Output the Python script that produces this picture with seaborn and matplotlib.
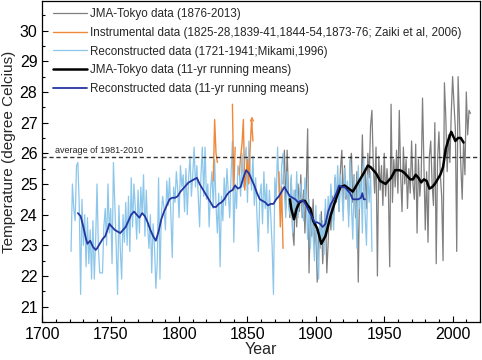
import numpy as np
import pandas as pd
import matplotlib
matplotlib.use('Agg')
import matplotlib.pyplot as plt
from matplotlib.ticker import MultipleLocator
import seaborn as sns

# --- 数据 ---
# 重建数据 1721-1941 (Mikami, 1996)
recon_years = np.arange(1721, 1942)
recon_temp = [
    22.8, 25.0, 24.2, 23.8, 25.6, 25.7, 24.3, 21.4, 24.5, 23.0,  # 1721-1730
    24.0, 22.3, 23.9, 22.4, 23.5, 21.9, 23.8, 21.9, 23.2, 25.0,  # 1731-1740
    22.9, 22.1, 22.1, 22.1, 23.6, 24.2, 23.0, 25.0, 23.4, 24.2,  # 1741-1750
    22.4, 25.7, 24.4, 23.0, 21.4, 24.3, 22.9, 21.9, 24.0, 23.1,  # 1751-1760
    24.4, 23.0, 24.6, 22.8, 25.2, 23.6, 25.0, 24.2, 23.2, 24.8,  # 1761-1770
    23.4, 24.9, 24.0, 25.3, 23.3, 24.8, 23.6, 22.9, 24.0, 22.1,  # 1771-1780
    23.7, 23.0, 21.6, 22.4, 25.2, 21.9, 24.0, 24.6, 24.2, 23.5,  # 1781-1790
    25.1, 24.3, 25.2, 24.0, 22.6, 24.9, 24.4, 25.4, 24.8, 23.9,  # 1791-1800
    25.6, 24.9, 25.3, 24.1, 25.5, 24.0, 25.2, 25.9, 24.6, 25.3,  # 1801-1810
    26.2, 24.9, 25.6, 24.6, 23.6, 25.3, 26.2, 24.6, 26.2, 24.5,  # 1811-1820
    25.0, 23.6, 24.8, 25.4, 24.2, 25.8, 24.3, 23.4, 24.7, 22.3,  # 1821-1830
    24.6, 23.8, 25.2, 24.3, 25.5, 24.7, 23.9, 25.3, 26.4, 23.1,  # 1831-1840
    25.0, 24.2, 25.6, 25.4, 24.6, 26.0, 24.9, 25.8, 26.2, 24.4,  # 1841-1850
    26.4, 25.4, 24.8, 25.9, 24.3, 25.2, 23.9, 22.8, 24.6, 25.0,  # 1851-1860
    23.7, 25.4, 24.2, 25.0, 23.4, 24.8, 24.0, 23.0, 21.4, 25.2,  # 1861-1870
    24.5, 26.2, 24.9, 24.1, 25.6, 26.0, 24.7, 23.9, 25.4, 24.5,  # 1871-1880
    24.0, 25.3, 23.4, 24.8, 24.1, 25.4, 23.9, 24.6, 25.0, 24.3,  # 1881-1890
    23.8, 25.2, 24.4, 23.2, 24.5, 22.9, 24.0, 23.3, 22.5, 24.3,  # 1891-1900
    22.6, 21.9, 24.0, 23.1, 23.8, 22.7, 24.5, 23.3, 24.6, 23.9,  # 1901-1910
    25.0, 24.2, 23.5, 25.3, 24.5, 25.6, 24.1, 25.3, 24.8, 23.8,  # 1911-1920
    25.5, 24.6, 25.1, 23.6, 25.8, 24.3, 23.2, 25.3, 24.7, 22.9,  # 1921-1930
    25.6, 24.2, 25.2, 23.4, 25.9, 24.0, 23.0, 25.3, 24.4, 25.4, 22.8,  # 1931-1941
]

# JMA 东京观测 1876-2013
jma_years = np.arange(1876, 2014)
jma_temp = [
    25.0, 26.1, 24.2, 26.1, 24.6,                                # 1876-1880
    23.9, 25.2, 23.5, 23.0, 24.8, 23.6, 25.0, 24.1, 25.3, 23.9,  # 1881-1890
    24.8, 23.4, 24.9, 26.8, 22.1, 24.0, 23.3, 24.5, 23.0, 23.6,  # 1891-1900
    21.8, 23.5, 22.9, 24.1, 22.4, 23.4, 24.2, 22.1, 23.1, 24.3,  # 1901-1910
    23.5, 24.6, 23.8, 25.2, 24.4, 25.0, 24.1, 25.5, 26.1, 24.3,  # 1911-1920
    25.6, 24.5, 25.0, 24.0, 25.7, 26.0, 24.4, 25.3, 23.9, 25.4,  # 1921-1930
    21.8, 25.0, 24.6, 26.6, 24.8, 25.5, 24.2, 26.0, 25.2, 26.9,  # 1931-1940
    27.4, 25.6, 24.7, 26.2, 22.0, 25.9, 24.8, 25.6, 24.3, 26.0,  # 1941-1950
    24.6, 25.5, 24.9, 22.3, 27.6, 24.4, 25.8, 24.9, 26.1, 24.7,  # 1951-1960
    27.4, 25.3, 24.1, 26.2, 25.0, 25.8, 24.2, 25.5, 24.7, 26.4,  # 1961-1970
    25.0, 24.5, 26.3, 23.4, 25.8, 24.6, 25.2, 27.8, 25.7, 23.5,  # 1971-1980
    25.4, 23.1, 25.9, 26.4, 25.0, 24.3, 27.0, 22.4, 25.8, 26.7,  # 1981-1990
    25.3, 24.6, 22.5, 28.3, 27.2, 25.4, 26.6, 25.7, 27.3, 28.5,  # 1991-2000
    27.6, 26.8, 22.8, 28.5, 27.1, 25.6, 24.5, 26.4, 25.3, 28.0,  # 2001-2010
    26.6, 27.4, 27.3,                                            # 2011-2013
]

# 器测数据 (Zaiki et al, 2006)，四段
instr_segments = [
    ([1825, 1826, 1827, 1828], [25.1, 27.1, 26.0, 25.7]),
    ([1839, 1840, 1841], [27.6, 24.8, 26.2]),
    (list(range(1844, 1855)), [25.3, 25.9, 26.3, 27.1, 24.8, 25.3, 25.8, 25.0, 26.2, 27.1, 26.4]),
    ([1873, 1874, 1875, 1876], [25.4, 23.6, 24.9, 22.9]),
]

# 11年滑动平均（重建）
recon_rm_years = [1726, 1728, 1730, 1732, 1733, 1735, 1737, 1739, 1740, 1742, 1744, 1746, 1748, 1749,
                  1751, 1753, 1755, 1757, 1759, 1761, 1763, 1765, 1767, 1769, 1771, 1773, 1775, 1777,
                  1779, 1781, 1783, 1785, 1787, 1789, 1791, 1793, 1795, 1797, 1799, 1801, 1803, 1805,
                  1807, 1809, 1811, 1813, 1815, 1817, 1819, 1821, 1823, 1825, 1827, 1829, 1831, 1833,
                  1835, 1837, 1839, 1841, 1843, 1845, 1847, 1849, 1851, 1853, 1855, 1857, 1859, 1861,
                  1863, 1865, 1867, 1869, 1871, 1873, 1875, 1877, 1879, 1881, 1883, 1885, 1887, 1889,
                  1891, 1893, 1895, 1897, 1899, 1901, 1903, 1905, 1907, 1909, 1911, 1913, 1915, 1917,
                  1919, 1921, 1923, 1925, 1927, 1929, 1931, 1933, 1934, 1935, 1936]
recon_rm = [24.05, 23.95, 23.6, 23.2, 23.05, 23.15, 22.95, 22.85, 22.9, 23.05, 23.2, 23.3, 23.55, 23.7,
            23.6, 23.5, 23.45, 23.4, 23.5, 23.6, 23.8, 24.0, 24.1, 24.0, 23.9, 24.05, 23.95, 23.75,
            23.5, 23.3, 23.15, 23.45, 23.85, 24.1, 24.3, 24.5, 24.55, 24.55, 24.6, 24.75, 24.85, 24.95,
            25.05, 25.1, 25.15, 25.2, 25.0, 24.85, 24.7, 24.55, 24.4, 24.25, 24.25, 24.35, 24.4, 24.5,
            24.65, 24.75, 24.8, 24.95, 24.85, 24.9, 25.2, 25.45, 25.35, 25.15, 24.95, 24.7, 24.5, 24.45,
            24.4, 24.3, 24.35, 24.35, 24.5, 24.6, 24.75, 24.9, 24.75, 24.6, 24.55, 24.5, 24.4, 24.45,
            24.45, 24.3, 24.1, 23.95, 23.75, 23.75, 23.7, 23.6, 23.7, 24.1, 24.35, 24.5, 24.7, 24.95,
            24.9, 24.9, 24.8, 24.7, 24.5, 24.5, 24.5, 24.55, 24.7, 24.5, 24.5]

# 11年滑动平均（JMA）
jma_rm_years = [1881, 1882, 1884, 1886, 1888, 1890, 1892, 1894, 1896, 1898, 1901, 1904, 1907, 1911,
                1915, 1918, 1921, 1924, 1927, 1931, 1935, 1938, 1940, 1944, 1947, 1951, 1955, 1958,
                1961, 1963, 1965, 1967, 1969, 1971, 1973, 1975, 1977, 1979, 1981, 1983, 1985, 1987,
                1989, 1991, 1993, 1995, 1997, 1999, 2000, 2002, 2004, 2006, 2008]
jma_rm = [24.5, 24.2, 23.85, 24.2, 24.4, 24.45, 24.45, 24.3, 24.2, 23.8, 23.55, 23.05, 23.3, 24.0,
          24.55, 24.9, 24.95, 24.85, 24.75, 25.05, 25.35, 25.6, 25.55, 25.35, 25.1, 25.0, 25.2, 25.45,
          25.45, 25.42, 25.35, 25.25, 25.15, 25.15, 25.3, 25.2, 25.05, 25.15, 25.1, 24.85, 24.9, 25.0,
          25.15, 25.3, 25.55, 26.15, 26.45, 26.7, 26.6, 26.4, 26.5, 26.5, 26.35]

avg_1981_2010 = 25.88

# --- 绘图 ---
sns.set_theme(style='ticks')
plt.rcParams['font.family'] = ['Liberation Sans', 'DejaVu Sans']

fig = plt.figure(figsize=(4.82, 3.6), dpi=100)
ax = fig.add_axes([0.0878, 0.1056, 0.908, 0.892])

c_gray = '#7f7f7f'
c_orange = '#f0883a'
c_light = '#8cc6ea'
c_black = '#000000'
c_blue = '#2535a0'

sns.lineplot(x=jma_years, y=jma_temp, ax=ax, color=c_gray, lw=0.9, zorder=2,
             label='JMA-Tokyo data (1876-2013)')
for i, (yrs, vals) in enumerate(instr_segments):
    sns.lineplot(x=yrs, y=vals, ax=ax, color=c_orange, lw=1.0, zorder=4,
                 label='Instrumental data (1825-28,1839-41,1844-54,1873-76; Zaiki et al, 2006)' if i == 0 else None)
sns.lineplot(x=recon_years, y=recon_temp, ax=ax, color=c_light, lw=0.9, zorder=3,
             label='Reconstructed data (1721-1941;Mikami,1996)')
sns.lineplot(x=jma_rm_years, y=jma_rm, ax=ax, color=c_black, lw=1.8, zorder=5,
             label='JMA-Tokyo data (11-yr running means)')
sns.lineplot(x=recon_rm_years, y=recon_rm, ax=ax, color=c_blue, lw=1.3, zorder=6,
             label='Reconstructed data (11-yr running means)')

# 1853年的小箭头
ax.annotate('', xy=(1853.3, 27.2), xytext=(1853.3, 26.9),
            arrowprops=dict(arrowstyle='->', color=c_orange, lw=0.8, shrinkA=0, shrinkB=0,
                            mutation_scale=6), zorder=4)

# 1981-2010 平均线
ax.axhline(avg_1981_2010, color='#333333', lw=1.0, ls=(0, (3, 2)), zorder=7)
ax.text(1709, avg_1981_2010 + 0.08, 'average of 1981-2010', fontsize=6.5, va='bottom', ha='left')

ax.set_xlim(1700, 2020)
ax.set_ylim(20.5, 30.97)
ax.xaxis.set_major_locator(MultipleLocator(50))
ax.xaxis.set_minor_locator(MultipleLocator(10))
ax.yaxis.set_major_locator(MultipleLocator(1))
ax.yaxis.set_minor_locator(MultipleLocator(0.5))
ax.tick_params(which='both', direction='in', labelsize=11.5, width=0.8, colors='black')
ax.tick_params(which='major', length=4)
ax.tick_params(which='minor', length=2.5)
for s in ax.spines.values():
    s.set_linewidth(0.9)
    s.set_color('black')

ax.set_xlabel('Year', fontsize=11.5, labelpad=0)
ax.set_ylabel('Temperature (degree Celcius)', fontsize=11, labelpad=2)
ax.yaxis.set_label_coords(-0.06, 0.53)

handles, labels = ax.get_legend_handles_labels()
ax.legend(handles, labels, loc='upper left', bbox_to_anchor=(0.02, 0.985), frameon=False,
          fontsize=8.4, handlelength=2.9, handletextpad=0.2, labelspacing=0.58, borderpad=0.2,
          borderaxespad=0)

fig.savefig('out.png', dpi=100)
